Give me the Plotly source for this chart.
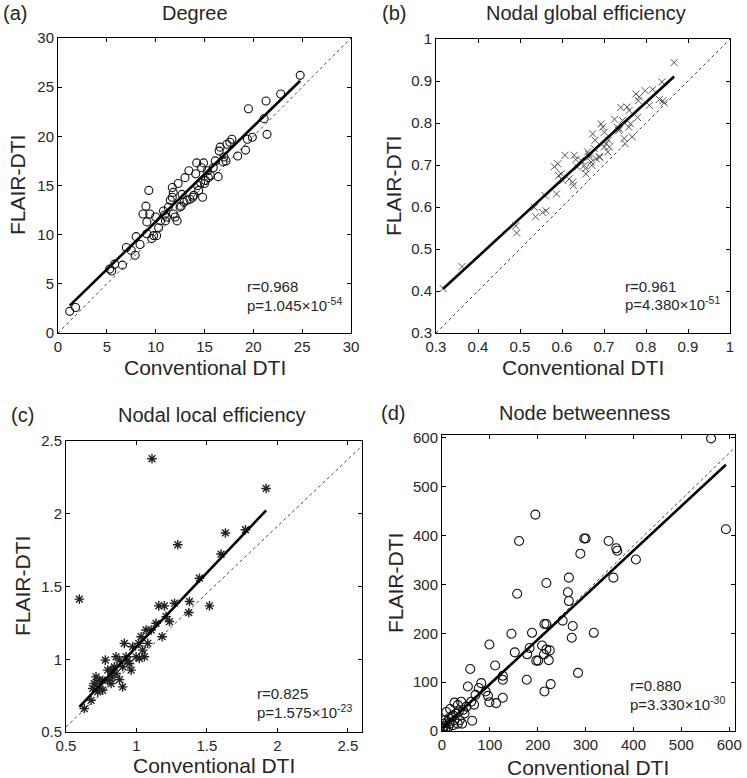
import plotly.graph_objects as go

W, H = 747, 778

# ---------------- data ----------------
deg_conv = [1.2, 1.8, 5.3, 5.5, 5.8, 6.6, 7.0, 7.5, 7.9, 8.0, 8.4, 8.7, 9.0, 9.1, 9.3, 9.4, 9.1, 9.6, 9.8,
            10.0, 10.1, 10.3, 10.5, 10.8, 11.0, 11.1, 11.3, 11.5, 11.7, 11.7, 11.8, 11.8, 12.0, 12.2, 12.3,
            12.5, 12.7, 13.0, 13.2, 13.4, 13.5, 13.8, 14.1, 14.2, 14.4, 14.6, 14.7, 14.9, 14.8, 15.1, 15.3,
            15.4, 15.6, 15.9, 16.1, 16.4, 16.5, 16.6, 16.9, 17.0, 17.2, 17.3, 17.6, 17.8, 18.4, 19.2, 19.4,
            19.5, 19.9, 21.1, 21.3, 21.4, 22.8, 24.8, 12.6, 13.9, 15.0, 10.9, 12.9, 14.3]
deg_flair = [2.2, 2.6, 6.5, 6.3, 7.0, 6.9, 8.7, 8.4, 7.9, 9.8, 9.0, 12.1, 12.9, 11.3, 14.5, 12.1, 10.1, 9.6, 9.9,
             11.8, 9.9, 10.7, 11.4, 12.4, 11.4, 11.8, 12.8, 13.5, 13.8, 14.8, 14.3, 12.1, 11.8, 11.4, 15.2,
             12.8, 14.1, 15.8, 13.5, 16.5, 13.6, 13.8, 16.2, 17.3, 14.5, 15.3, 16.8, 17.3, 13.8, 15.5, 16.5,
             15.8, 16.0, 16.8, 17.5, 15.9, 18.5, 18.9, 17.4, 17.9, 17.5, 19.2, 19.4, 19.7, 18.0, 18.6, 19.7,
             22.8, 19.9, 21.8, 23.6, 20.2, 24.3, 26.2, 12.9, 14.0, 15.2, 12.0, 13.3, 15.0]

ge_conv = [0.317, 0.362, 0.490, 0.492, 0.537, 0.534, 0.554, 0.562, 0.560, 0.587, 0.582, 0.590, 0.592, 0.598,
           0.602, 0.607, 0.617, 0.625, 0.627, 0.629, 0.633, 0.637, 0.645, 0.653, 0.656, 0.657, 0.661, 0.665,
           0.669, 0.671, 0.673, 0.677, 0.679, 0.681, 0.689, 0.693, 0.697, 0.701, 0.701, 0.705, 0.709, 0.711,
           0.713, 0.725, 0.731, 0.737, 0.740, 0.744, 0.748, 0.750, 0.755, 0.759, 0.760, 0.763, 0.767, 0.776,
           0.780, 0.782, 0.784, 0.798, 0.808, 0.816, 0.832, 0.838, 0.840, 0.867, 0.843, 0.735, 0.690, 0.664]
ge_flair = [0.406, 0.458, 0.555, 0.538, 0.577, 0.599, 0.587, 0.591, 0.627, 0.631, 0.696, 0.703, 0.675, 0.679,
            0.663, 0.723, 0.667, 0.659, 0.651, 0.723, 0.713, 0.695, 0.711, 0.699, 0.691, 0.679, 0.731, 0.719,
            0.707, 0.699, 0.774, 0.739, 0.759, 0.715, 0.720, 0.798, 0.790, 0.778, 0.743, 0.751, 0.731, 0.759,
            0.743, 0.809, 0.790, 0.786, 0.837, 0.806, 0.763, 0.751, 0.838, 0.790, 0.830, 0.798, 0.767, 0.869,
            0.813, 0.853, 0.862, 0.877, 0.842, 0.880, 0.856, 0.898, 0.853, 0.944, 0.848, 0.782, 0.718, 0.725]

le_conv = [0.595, 1.110, 1.920, 1.293, 1.631, 1.600, 1.773, 1.447, 1.518, 1.376, 1.371, 1.270, 1.158, 1.198,
           1.234, 1.182, 1.139, 1.080, 1.068, 1.044, 1.033, 1.016, 0.997, 0.973, 0.962, 0.926, 0.914, 0.902,
           0.902, 0.879, 0.855, 0.843, 0.831, 0.820, 0.796, 0.779, 0.760, 0.737, 0.725, 0.713, 0.701, 0.689,
           0.678, 0.630, 0.820, 0.796, 0.760, 1.020, 0.950, 0.855, 0.737, 1.056, 1.104, 1.210, 0.880, 0.935]
le_flair = [1.413, 2.378, 2.174, 1.787, 1.868, 1.723, 1.890, 1.557, 1.367, 1.397, 1.321, 1.385, 1.367, 1.367,
            1.259, 1.155, 1.247, 1.109, 1.201, 1.063, 1.155, 1.109, 1.017, 1.086, 0.925, 1.017, 1.109, 0.948,
            0.810, 0.994, 1.017, 0.948, 0.879, 0.833, 0.925, 0.994, 0.856, 0.810, 0.776, 0.879, 0.833, 0.799,
            0.718, 0.661, 0.925, 0.856, 0.787, 1.006, 0.971, 0.902, 0.856, 1.017, 1.201, 1.293, 0.860, 0.990]

bc_conv = [562, 593, 195, 161, 157, 218, 265, 263, 265, 289, 297, 300, 348, 364, 366, 358, 405, 317, 273, 271,
           252, 214, 218, 188, 145, 99, 152, 178, 183, 209, 218, 225, 197, 201, 223, 213, 284, 227, 214, 177,
           111, 127, 127, 127, 113, 99, 96, 91, 59, 54, 82, 77, 70, 61, 63, 67, 40, 33, 26, 17, 9, 6, 15, 23,
           30, 44, 51, 37, 42, 47, 33, 23, 13, 2, 8, 16, 26, 3, 1, 20, 35, 11, 5]
bc_flair = [599, 413, 443, 389, 281, 303, 314, 284, 266, 363, 394, 394, 389, 374, 369, 314, 351, 201, 215, 191,
            226, 219, 219, 201, 199, 177, 161, 157, 170, 175, 167, 165, 144, 144, 145, 157, 119, 96, 81, 105,
            134, 113, 105, 68, 57, 59, 72, 81, 127, 91, 98, 88, 74, 60, 21, 54, 60, 53, 58, 45, 39, 22, 26, 32,
            36, 43, 50, 22, 15, 36, 15, 12, 8, 3, 7, 15, 22, 15, 5, 28, 40, 18, 10]

# regression lines (slope, intercept)
fit_a = (0.969, 1.62)
fit_b = (0.919, 0.114)
fit_c = (1.0195, 0.066)
fit_d = (0.911, 5.0)
# dashed reference lines as they appear in the picture (slope, intercept)
ref_a = (1.0, 0.0)
ref_b = (1.0, 0.0)
ref_c = (0.92, 0.074)
ref_d = (0.948, 0.0)

titles = ["Degree", "Nodal global efficiency", "Nodal local efficiency", "Node betweenness"]
panel_tags = ["(a)", "(b)", "(c)", "(d)"]
r_texts = ["r=0.968", "r=0.961", "r=0.825", "r=0.880"]
p_texts = ["p=1.045×10<sup>-54</sup>", "p=4.380×10<sup>-51</sup>",
           "p=1.575×10<sup>-23</sup>", "p=3.330×10<sup>-30</sup>"]
x_label = "Conventional DTI"
y_label = "FLAIR-DTI"


def px(x):
    return x / W


def py(y):
    return 1 - y / H


# panel boxes in pixels: left, right, top, bottom
boxes = [(58, 351, 38, 333), (436, 730, 39, 333), (66, 362, 441, 732), (442, 735, 435, 731)]
ranges = [((0, 30), (0, 30), 5, 5), ((0.3, 1.0), (0.3, 1.0), 0.1, 0.1),
          ((0.5, 2.6), (0.5, 2.5), 0.5, 0.5), ((0, 612), (0, 606), 100, 100)]

FONT = "Liberation Sans, Arial, Helvetica, sans-serif"
TXT = "#262626"

fig = go.Figure()

datasets = [(deg_conv, deg_flair, fit_a, ref_a, dict(symbol="circle-open", size=8, color="#111",
                                                     line=dict(width=1.1, color="#111"))),
            (ge_conv, ge_flair, fit_b, ref_b, dict(symbol="x-thin-open", size=7, color="#555",
                                                   line=dict(width=1.0, color="#555"))),
            (le_conv, le_flair, fit_c, ref_c, dict(symbol="asterisk-open", size=8, color="#222",
                                                   line=dict(width=1.4, color="#222"))),
            (bc_conv, bc_flair, fit_d, ref_d, dict(symbol="circle-open", size=9, color="#111",
                                                   line=dict(width=1.1, color="#111")))]

for i, (xs, ys, fit, ref, mk) in enumerate(datasets):
    sfx = "" if i == 0 else str(i + 1)
    xa, ya = "x" + sfx, "y" + sfx
    (xr, yr, dx, dy) = ranges[i]
    rk, rb = ref
    fig.add_trace(go.Scatter(x=[xr[0], xr[1]], y=[rk * xr[0] + rb, rk * xr[1] + rb], mode="lines",
                             xaxis=xa, yaxis=ya, line=dict(color="#444", width=1, dash="3px,3px"),
                             showlegend=False, hoverinfo="skip"))
    fig.add_trace(go.Scatter(x=xs, y=ys, mode="markers", xaxis=xa, yaxis=ya, marker=mk,
                             showlegend=False))
    x0, x1 = min(xs), max(xs)
    k, b = fit
    fig.add_trace(go.Scatter(x=[x0, x1], y=[k * x0 + b, k * x1 + b], mode="lines", xaxis=xa, yaxis=ya,
                             line=dict(color="black", width=2.6), showlegend=False))

    l, r, t, btm = boxes[i]
    axis_common = dict(showline=True, linecolor="black", linewidth=1, mirror="ticks", ticks="inside",
                       ticklen=4, tickcolor="black", showgrid=False, zeroline=False, automargin=False,
                       tickfont=dict(family=FONT, size=15, color=TXT))
    fig.update_layout(**{
        "xaxis" + sfx: dict(domain=[px(l), px(r)], range=list(xr), dtick=dx, tick0=0,
                            anchor=ya, **axis_common),
        "yaxis" + sfx: dict(domain=[py(btm), py(t)], range=list(yr), dtick=dy, tick0=0,
                            anchor=xa, **axis_common),
    })

annots = []
title_pos = [(195, 13), (586, 13), (212, 415), (584, 413)]
tag_pos = [(15, 13), (394, 13), (22, 415), (393, 413)]
xlab_pos = [(205, 367), (583, 367), (214, 765), (588, 767)]
ylab_pos = [(18, 185), (393, 186), (22, 586), (395, 583)]
rp_pos = [(245, 287, 304), (623, 286, 303), (255, 693, 711), (628, 685, 703)]

for i in range(4):
    annots.append(dict(text=titles[i], x=px(title_pos[i][0]), y=py(title_pos[i][1]), xref="paper",
                       yref="paper", showarrow=False, xanchor="center", yanchor="middle",
                       font=dict(family=FONT, size=20, color=TXT)))
    annots.append(dict(text=panel_tags[i], x=px(tag_pos[i][0]), y=py(tag_pos[i][1]), xref="paper",
                       yref="paper", showarrow=False, xanchor="center", yanchor="middle",
                       font=dict(family=FONT, size=20, color=TXT)))
    annots.append(dict(text=x_label, x=px(xlab_pos[i][0]), y=py(xlab_pos[i][1]), xref="paper",
                       yref="paper", showarrow=False, xanchor="center", yanchor="middle",
                       font=dict(family=FONT, size=21, color=TXT)))
    annots.append(dict(text=y_label, x=px(ylab_pos[i][0]), y=py(ylab_pos[i][1]), xref="paper",
                       yref="paper", showarrow=False, xanchor="center", yanchor="middle", textangle=-90,
                       font=dict(family=FONT, size=21, color=TXT)))
    xx, ry, pyy = rp_pos[i]
    annots.append(dict(text=r_texts[i], x=px(xx), y=py(ry), xref="paper", yref="paper", showarrow=False,
                       xanchor="left", yanchor="middle", font=dict(family=FONT, size=15, color=TXT)))
    annots.append(dict(text=p_texts[i], x=px(xx), y=py(pyy), xref="paper", yref="paper", showarrow=False,
                       xanchor="left", yanchor="middle", font=dict(family=FONT, size=15, color=TXT)))

fig.update_layout(width=W, height=H, margin=dict(l=0, r=0, t=0, b=0, autoexpand=False),
                  paper_bgcolor="white", plot_bgcolor="white", annotations=annots, showlegend=False)

fig.write_html("out.html", config={"displayModeBar": False},
               post_script="document.body.style.margin='0';document.body.style.overflow='hidden';")
